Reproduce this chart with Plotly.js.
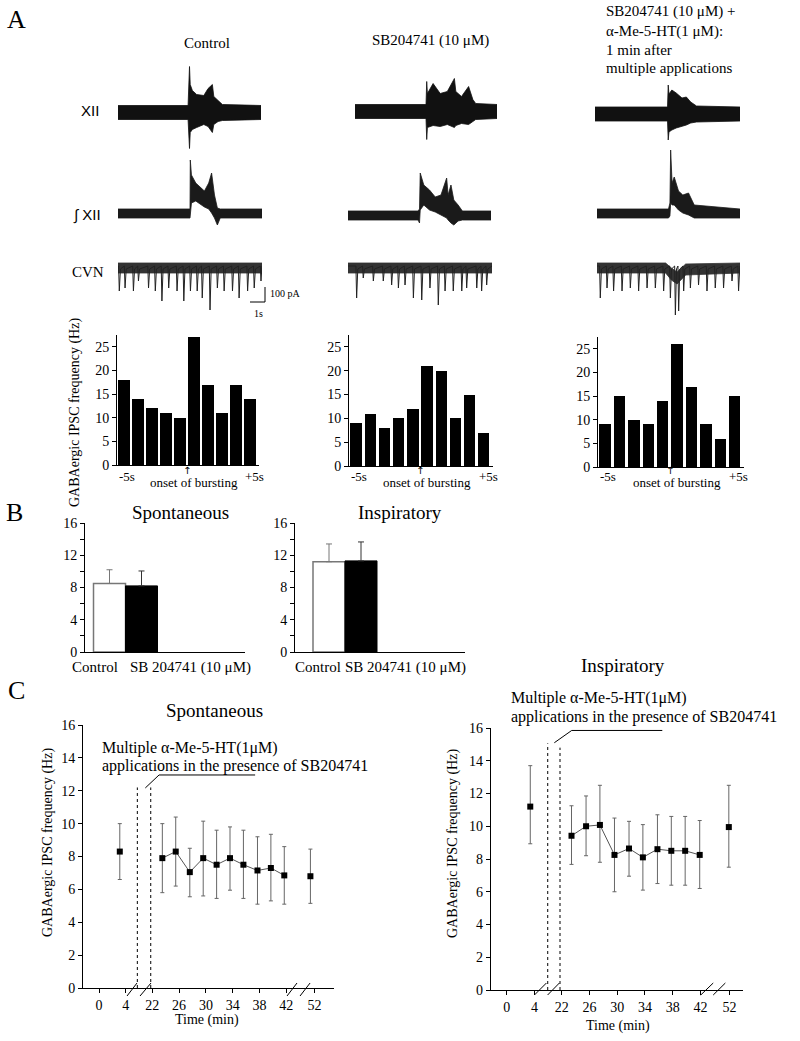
<!DOCTYPE html>
<html><head><meta charset="utf-8">
<script src="https://cdn.plot.ly/plotly-3.0.1.min.js"></script>
<style>html,body{margin:0;padding:0;background:#fff;}#chart{width:800px;height:1041px;}</style>
</head><body><div id="chart"></div>
<script>
// ---------------- DATA ----------------
// Panel A: hypoglossal (XII) activity envelopes, time in s (0-10), amplitude in arbitrary units
const xiiT1 = [0, 4.9, 5.0, 5.05, 5.2, 5.5, 6.0, 6.3, 6.6, 6.7, 7.0, 7.3, 10];
const xiiUp1 = [7, 7, 46, 28, 22, 18, 17, 24, 28, 16, 12, 8, 7];
const xiiLo1 = [-7, -7, -36, -20, -17, -15, -12, -14, -20, -12, -9, -8, -7];
const xiiT2 = [0, 5.0, 5.05, 5.1, 5.5, 6.0, 6.5, 7.0, 7.1, 7.5, 8.0, 8.3, 8.5, 10];
const xiiUp2 = [7, 7, 30, 18, 28, 18, 20, 33, 20, 15, 25, 12, 8, 7];
const xiiLo2 = [-7, -7, -28, -16, -14, -15, -13, -16, -14, -12, -13, -10, -8, -7];
const xiiT3 = [0, 5.0, 5.05, 5.1, 5.3, 5.6, 6.0, 6.3, 6.6, 7.0, 10];
const xiiUp3 = [7, 7, 29, 20, 24, 21, 16, 17, 12, 8, 7];
const xiiLo3 = [-7, -7, -26, -18, -16, -14, -12, -11, -9, -8, -7];
// Integrated XII envelopes
const intT1 = [0, 5.0, 5.02, 5.1, 5.4, 5.8, 6.0, 6.3, 6.5, 6.7, 6.9, 7.1, 10];
const intUp1 = [4, 4, 53, 38, 30, 24, 22, 30, 40, 18, 5, 4, 4];
const intLo1 = [-5, -5, -5, 10, 12, 8, 6, 4, 0, -5, -12, -5, -5];
const intT2 = [0, 4.9, 5.0, 5.05, 5.3, 5.7, 6.1, 6.5, 6.9, 7.0, 7.2, 7.4, 7.7, 8.0, 10];
const intUp2 = [4, 4, 6, 42, 30, 25, 18, 20, 37, 20, 30, 15, 10, 4, 4];
const intLo2 = [-5, -5, -8, 5, 10, 5, 3, 0, -3, -5, -8, -10, -6, -5, -5];
const intT3 = [0, 5.0, 5.1, 5.15, 5.25, 5.4, 5.7, 6.0, 6.4, 6.8, 10];
const intUp3 = [4, 4, 10, 63, 30, 36, 22, 18, 20, 8, 4];
const intLo3 = [-5, -5, -3, 10, 8, 8, 3, 0, -2, -5, -5];
// CVN IPSC traces: baseline band and downward IPSC spikes (time s, depth)
const cvnBandT1 = [0, 10], cvnBandUp1 = [3, 3], cvnBandLo1 = [-7, -7];
const cvnBandT2 = [0, 10], cvnBandUp2 = [3, 3], cvnBandLo2 = [-7, -7];
const cvnBandT3 = [0, 4.8, 5.2, 5.6, 6.2, 10], cvnBandUp3 = [3, 3, -2, -6, 2, 3], cvnBandLo3 = [-7, -7, -14, -18, -9, -7];
const cvnT1 = [0.09,0.49,1.07,1.42,2.12,2.59,3.05,3.52,4.1,4.57,5.03,5.5,5.85,6.39,6.9,7.37,7.95,8.41,9.0,9.46,9.93];
const cvnD1 = [-25,-22,-25,-15,-22,-25,-35,-22,-25,-35,-25,-25,-32,-44,-22,-25,-25,-32,-25,-22,-15];
const cvnT2 = [0.6,1.06,1.76,2.45,3.03,3.5,3.96,4.54,5.12,5.69,6.27,6.74,7.31,7.9,8.24,8.94,9.28,9.63];
const cvnD2 = [-32,-12,-15,-15,-19,-22,-19,-32,-34,-22,-39,-25,-25,-25,-22,-22,-25,-19];
const cvnT3 = [0.23,0.7,1.16,1.75,2.33,2.91,3.5,4.08,4.66,5.13,5.48,5.71,6.06,6.53,7.1,7.69,8.27,8.85,9.44,9.9];
const cvnD3 = [-32,-22,-25,-25,-22,-25,-22,-22,-25,-32,-49,-45,-25,-22,-19,-25,-22,-22,-15,-25];
// Histograms (1-s bins, -5 s .. +5 s)
const histBins = [-4.5,-3.5,-2.5,-1.5,-0.5,0.5,1.5,2.5,3.5,4.5];
const histControl = [18,14,12,11,10,27,17,11,17,14];
const histSB = [9,11,8,10,12,21,20,10,15,7];
const histMulti = [9,15,10,9,14,26,17,9,6,15];
const histTicks = [0,5,10,15,20,25];
// Panel B
const bCats = ['Control', 'SB 204741 (10 μM)'];
const bSpontMean = [8.5, 8.2];
const bSpontErr = [1.7, 1.85];
const bInspMean = [11.2, 11.3];
const bInspErr = [2.2, 2.35];
// Panel C
const cTickMin = [0,4,22,26,30,34,38,42,52];
const cSpontT = [3.1,23.5,25.5,27.6,29.6,31.6,33.6,35.6,37.7,39.7,41.7,51.4];
const cSpontMean = [8.3,7.9,8.3,7.05,7.9,7.5,7.9,7.5,7.15,7.3,6.85,6.8];
const cSpontErrUp = [1.7,2.1,2.1,1.45,2.25,2.1,1.9,2.1,2.05,2.05,1.75,1.65];
const cSpontErrDn = [1.7,2.1,2.1,1.5,2.3,2.05,1.95,2.05,2.05,2.0,1.75,1.65];
const cInspT = [3.4,23.4,25.5,27.5,29.6,31.7,33.7,35.8,37.8,39.8,41.9,51.9];
const cInspMean = [11.2,9.42,10.0,10.08,8.25,8.64,8.1,8.6,8.5,8.5,8.25,9.95];
const cInspErrUp = [2.5,1.83,1.85,2.42,2.25,1.66,2.0,2.1,2.1,2.1,2.1,2.55];
const cInspErrDn = [2.27,1.75,1.8,2.28,2.25,1.69,2.0,2.1,2.1,2.1,2.05,2.45];

// ---------------- BUILD ----------------
const W = 800, H = 1041;
const SERIF = '"Liberation Serif","Times New Roman",serif';
const SANS = '"Liberation Sans",Arial,sans-serif';
const fx = p => p / W, fy = p => 1 - p / H;
const data = [];
const layout = {width: W, height: H, margin: {l:0,r:0,t:0,b:0}, paper_bgcolor: '#fff',
  plot_bgcolor: 'rgba(0,0,0,0)', showlegend: false, annotations: [], shapes: [], bargap: 0};
let n = 0;
function addAxes(xpx, ypx, xopt, yopt) {
  n++; const s = n === 1 ? '' : String(n);
  layout['xaxis' + s] = Object.assign({domain: [fx(xpx[0]), fx(xpx[1])], anchor: 'y' + s, fixedrange: true}, xopt);
  layout['yaxis' + s] = Object.assign({domain: [fy(ypx[1]), fy(ypx[0])], anchor: 'x' + s, fixedrange: true}, yopt);
  return {x: 'x' + s, y: 'y' + s};
}
function ann(text, x, y, o) {
  layout.annotations.push(Object.assign({text, x: fx(x), y: fy(y), xref: 'paper', yref: 'paper',
    xanchor: 'center', yanchor: 'middle',
    showarrow: false, font: {family: SERIF, size: 15, color: '#000'}}, o || {}));
}
function band(ax, t, up, lo, color) {
  data.push({type: 'scatter', mode: 'lines', x: t.concat(t.slice().reverse()), y: up.concat(lo.slice().reverse()),
    fill: 'toself', fillcolor: color, line: {color: color, width: 0.8}, xaxis: ax.x, yaxis: ax.y, hoverinfo: 'skip'});
}
function spikes(ax, T, D) {
  const x = [0], y = [0];
  T.forEach((t, i) => { x.push(t - 0.05, t, t + 0.08); y.push(0, D[i], -3); });
  x.push(10); y.push(0);
  data.push({type: 'scatter', mode: 'lines', x, y, line: {color: '#222', width: 1}, xaxis: ax.x, yaxis: ax.y, hoverinfo: 'skip'});
}
const hidden = {visible: false};

// Panel A traces
const cols = [
  {xii: [118, 261], xc: 112.5, it: [118, 262], ib: 213, cv: [118, 262]},
  {xii: [355, 497], xc: 111.5, it: [348, 491], ib: 215, cv: [348, 492]},
  {xii: [595, 740], xc: 114, it: [597, 740], ib: 213, cv: [597, 740]}];
const xiiSets = [[xiiT1, xiiUp1, xiiLo1], [xiiT2, xiiUp2, xiiLo2], [xiiT3, xiiUp3, xiiLo3]];
const intSets = [[intT1, intUp1, intLo1], [intT2, intUp2, intLo2], [intT3, intUp3, intLo3]];
const cvnSets = [[cvnBandT1, cvnBandUp1, cvnBandLo1, cvnT1, cvnD1], [cvnBandT2, cvnBandUp2, cvnBandLo2, cvnT2, cvnD2],
  [cvnBandT3, cvnBandUp3, cvnBandLo3, cvnT3, cvnD3]];
const cvnBase = 266;
cols.forEach((c, i) => {
  const a1 = addAxes(c.xii, [c.xc - 50, c.xc + 50], Object.assign({range: [0, 10]}, hidden), Object.assign({range: [-50, 50]}, hidden));
  band(a1, xiiSets[i][0], xiiSets[i][1], xiiSets[i][2], '#111');
  const a2 = addAxes(c.it, [c.ib - 70, c.ib + 20], Object.assign({range: [0, 10]}, hidden), Object.assign({range: [-20, 70]}, hidden));
  band(a2, intSets[i][0], intSets[i][1], intSets[i][2], '#1a1a1a');
  const a3 = addAxes(c.cv, [cvnBase - 10, cvnBase + 55], Object.assign({range: [0, 10]}, hidden), Object.assign({range: [-55, 10]}, hidden));
  band(a3, cvnSets[i][0], cvnSets[i][1], cvnSets[i][2], '#333');
  spikes(a3, cvnSets[i][3], cvnSets[i][4]);
});
// scale bar (1 s, 100 pA)
layout.shapes.push({type: 'path', xref: 'paper', yref: 'paper',
  path: `M ${fx(250)} ${fy(302)} L ${fx(265)} ${fy(302)} L ${fx(265)} ${fy(287)}`, line: {color: '#000', width: 1}});
ann('100 pA', 268, 293, {xanchor: 'left', font: {family: SERIF, size: 10, color: '#000'}});
ann('1s', 258, 313, {font: {family: SERIF, size: 10, color: '#000'}});

// labels panel A
ann('A', 16, 20, {font: {family: SERIF, size: 26, color: '#000'}});
ann('Control', 207, 43);
ann('SB204741 (10 μM)', 430, 41);
ann('SB204741 (10 μM) +', 604, 12, {xanchor: 'left'});
ann('α-Me-5-HT(1 μM):', 604, 31, {xanchor: 'left'});
ann('1 min after', 604, 50, {xanchor: 'left'});
ann('multiple applications', 604, 68, {xanchor: 'left'});
ann('XII', 90, 110, {font: {family: SANS, size: 15, color: '#000'}});
ann('∫ XII', 87, 215, {font: {family: SANS, size: 15, color: '#000'}});
ann('CVN', 88, 272, {font: {family: SERIF, size: 15, color: '#000'}});

// Histograms
const hists = [[histControl, [117, 259], [335, 465]], [histSB, [349, 493], [335, 466]], [histMulti, [598, 744], [337, 467]]];
const yHist = {range: [0, 27.5], showgrid: false, zeroline: false, showline: true, linecolor: '#000', ticks: 'outside', ticklen: 4,
  tickcolor: '#000', tickvals: histTicks, tickfont: {family: SERIF, size: 14, color: '#000'}};
hists.forEach((h, i) => {
  const ax = addAxes(h[1], h[2], {range: [-5, 5.15], showgrid: false, zeroline: false, showline: true, linecolor: '#000',
    showticklabels: false, ticks: ''}, Object.assign({}, yHist));
  data.push({type: 'bar', x: histBins, y: h[0], width: 0.8, marker: {color: '#000'}, xaxis: ax.x, yaxis: ax.y, hoverinfo: 'skip'});
  const base = {xref: ax.x, yref: 'paper', showarrow: false, xanchor: 'center', yanchor: 'middle', font: {family: SERIF, size: 13, color: '#000'}};
  layout.annotations.push(Object.assign({}, base, {text: '-5s', x: -5, y: fy(476), xanchor: 'left'}));
  layout.annotations.push(Object.assign({}, base, {text: '+5s', x: 4.8, y: fy(476)}));
  layout.annotations.push(Object.assign({}, base, {text: 'onset of bursting', x: 0.5, y: fy(482)}));
  layout.annotations.push(Object.assign({}, base, {text: '↑', x: 0, y: fy(470), font: {family: 'DejaVu Sans', size: 10, color: '#000'}}));
});
ann('GABAergic IPSC frequency (Hz)', 75, 413, {textangle: -90, font: {family: SERIF, size: 14, color: '#000'}});

// Panel B
ann('B', 14, 512, {font: {family: SERIF, size: 26, color: '#000'}});
const yB = {range: [0, 16], showgrid: false, zeroline: false, showline: true, linecolor: '#000', ticks: 'outside', ticklen: 4,
  tickcolor: '#000', tickvals: [0,2,4,6,8,10,12,14,16], ticktext: ['0','','4','','8','','12','','16'],
  tickfont: {family: SERIF, size: 14, color: '#000'}};
const bPanels = [[bSpontMean, bSpontErr, [85, 245], [0.234, 5.234], 'Spontaneous', 180, [95, 190]],
                 [bInspMean, bInspErr, [295, 465], [-0.0625, 5.25], 'Inspiratory', 400, [318, 406]]];
bPanels.forEach(p => {
  const ax = addAxes(p[2], [523, 652], {range: p[3], showgrid: false, zeroline: false, showline: true, linecolor: '#000',
    showticklabels: false, ticks: ''}, Object.assign({}, yB));
  data.push({type: 'bar', x: [1], y: [p[0][0]], width: 1, marker: {color: '#fff', line: {color: '#777', width: 1.5}},
    error_y: {type: 'data', symmetric: false, array: [p[1][0]], arrayminus: [0], color: '#777', thickness: 1, width: 3},
    xaxis: ax.x, yaxis: ax.y, hoverinfo: 'skip'});
  data.push({type: 'bar', x: [2], y: [p[0][1]], width: 1, marker: {color: '#000', line: {color: '#000', width: 1}},
    error_y: {type: 'data', symmetric: false, array: [p[1][1]], arrayminus: [0], color: '#333', thickness: 1, width: 3},
    xaxis: ax.x, yaxis: ax.y, hoverinfo: 'skip'});
  ann(p[4], p[5], 512, {font: {family: SERIF, size: 19, color: '#000'}});
  ann(bCats[0], p[6][0], 667);
  ann(bCats[1], p[6][1], 667);
});

// Panel C
ann('C', 16, 690, {font: {family: SERIF, size: 26, color: '#000'}});
function brk(t) { return t < 12 ? t : (t < 46 ? t - 14.05 : t - 19.85); }
const cPanels = [
  {T: cSpontT, M: cSpontMean, U: cSpontErrUp, D: cSpontErrDn, xd: [83, 334], xr: [-2.39, 35.07], yd: [725, 988],
   title: 'Spontaneous', tpos: [214, 710], ylab: [48, 843], xlab: [207, 1020], txt: [0.15, 748, 766],
   dots: [[5.72, 12.2], [7.72, 12.2]], lead: [6.91, 12.17, 8.96, 12.96, 23.3], slash: [[4.18, 5.67], [6.12, 7.76], [28.06, 29.55], [30.0, 31.5]], sy: [996, 983]},
  {T: cInspT, M: cInspMean, U: cInspErrUp, D: cInspErrDn, xd: [490.7, 743.3], xr: [-2.31, 34.14], yd: [728, 990],
   title: 'Inspiratory', tpos: [623, 665], ylab: [453, 844], xlab: [618, 1026], txt: [0.33, 698, 717],
   dots: [[5.92, 15.06], [7.69, 14.8]], lead: [6.87, 15.1, 9.38, 15.85, 22.45], slash: [[4.0, 5.73], [5.9, 7.6], [28.0, 29.8], [29.8, 31.55]], sy: [995, 983]}];
cPanels.forEach(p => {
  const ax = addAxes(p.xd, p.yd, {range: p.xr, showgrid: false, zeroline: false, showline: true, linecolor: '#000',
    ticks: 'outside', ticklen: 4, tickcolor: '#000', tickvals: cTickMin.map(brk), ticktext: cTickMin.map(String),
    tickfont: {family: SERIF, size: 14, color: '#000'}},
    {range: [0, 16], showgrid: false, zeroline: false, showline: true, linecolor: '#000', ticks: 'outside', ticklen: 4,
     tickcolor: '#000', tickvals: [0,2,4,6,8,10,12,14,16], tickfont: {family: SERIF, size: 14, color: '#000'}});
  const X = p.T.map(brk);
  const seg = (a, b, mode) => ({type: 'scatter', mode, x: X.slice(a, b), y: p.M.slice(a, b),
    error_y: {type: 'data', symmetric: false, array: p.U.slice(a, b), arrayminus: p.D.slice(a, b), color: '#666', thickness: 1, width: 2},
    line: {color: '#555', width: 1}, marker: {symbol: 'square', size: 6, color: '#000'}, xaxis: ax.x, yaxis: ax.y, hoverinfo: 'skip', cliponaxis: false});
  data.push(seg(0, 1, 'markers'));
  data.push(seg(1, X.length - 1, 'lines+markers'));
  data.push(seg(X.length - 1, X.length, 'markers'));
  p.dots.forEach(d => layout.shapes.push({type: 'line', xref: ax.x, yref: ax.y, x0: d[0], x1: d[0], y0: 0, y1: d[1],
    line: {color: '#000', width: 1, dash: 'dot'}}));
  layout.shapes.push({type: 'path', xref: ax.x, yref: ax.y,
    path: `M ${p.lead[0]} ${p.lead[1]} L ${p.lead[2]} ${p.lead[3]} L ${p.lead[4]} ${p.lead[3]}`, line: {color: '#000', width: 1}});
  p.slash.forEach(s => layout.shapes.push({type: 'line', xref: ax.x, yref: 'paper', x0: s[0], x1: s[1], y0: fy(p.sy[0]), y1: fy(p.sy[1]),
    line: {color: '#000', width: 1}}));
  const tb = {xref: ax.x, yref: 'paper', showarrow: false, xanchor: 'left', yanchor: 'middle', font: {family: SERIF, size: 16, color: '#000'}};
  layout.annotations.push(Object.assign({}, tb, {text: 'Multiple α-Me-5-HT(1μM)', x: p.txt[0], y: fy(p.txt[1])}));
  layout.annotations.push(Object.assign({}, tb, {text: 'applications in the presence of SB204741', x: p.txt[0], y: fy(p.txt[2])}));
  ann(p.title, p.tpos[0], p.tpos[1], {font: {family: SERIF, size: 19, color: '#000'}});
  ann('GABAergic IPSC frequency (Hz)', p.ylab[0], p.ylab[1], {textangle: -90, font: {family: SERIF, size: 14, color: '#000'}});
  ann('Time (min)', p.xlab[0], p.xlab[1], {font: {family: SERIF, size: 14, color: '#000'}});
});

Plotly.newPlot('chart', data, layout, {staticPlot: true, displayModeBar: false});
</script></body></html>
